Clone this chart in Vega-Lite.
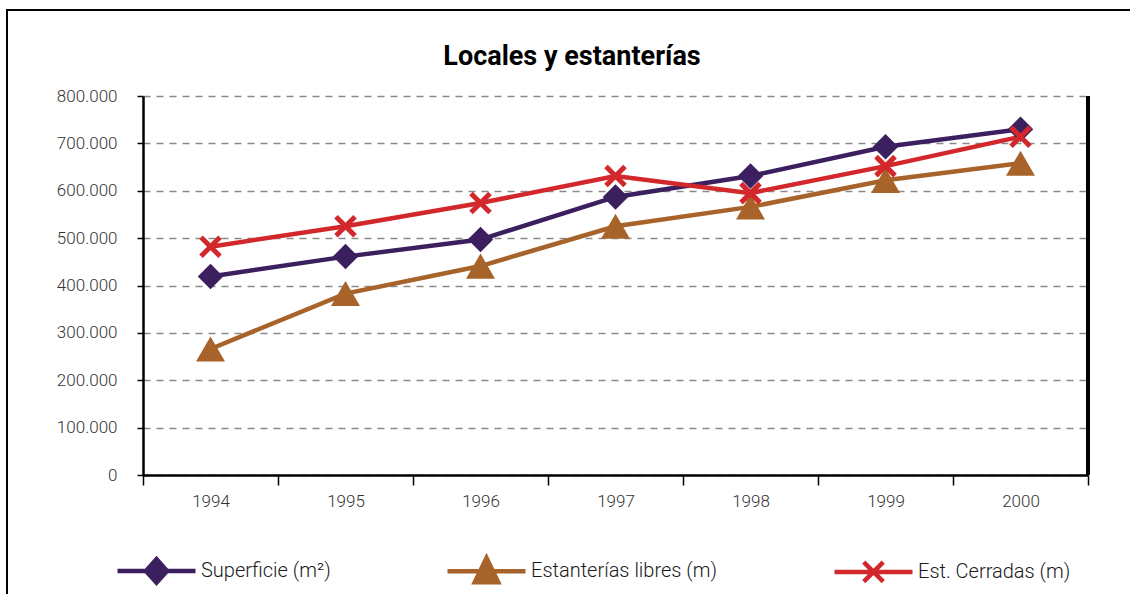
{
  "$schema": "https://vega.github.io/schema/vega-lite/v6.json",
  "width": 1130,
  "height": 600,
  "autosize": {"type": "none"},
  "padding": {"left": 7, "top": 10, "right": 0, "bottom": 0},
  "background": "white",
  "config": {
    "locale": {"number": {"decimal": ",", "thousands": ".", "grouping": [3], "currency": ["", " €"]}},
    "view": {"stroke": "black", "strokeWidth": 2},
    "font": "Roboto, sans-serif",
    "axis": {"labelFont": "Roboto, sans-serif", "labelFontWeight": 300},
    "legend": {"labelFont": "Roboto, sans-serif", "labelFontWeight": 300}
  },
  "title": {
    "text": "Locales y estanterías",
    "font": "Roboto, sans-serif",
    "fontSize": 27,
    "fontWeight": "bold",
    "color": "black",
    "anchor": "middle",
    "frame": "group",
    "baseline": "alphabetic",
    "offset": -82
  },
  "data": {
    "values": [
      {"year": "1994", "serie": "Superficie (m²)", "valor": 419000},
      {"year": "1995", "serie": "Superficie (m²)", "valor": 461000},
      {"year": "1996", "serie": "Superficie (m²)", "valor": 497000},
      {"year": "1997", "serie": "Superficie (m²)", "valor": 587000},
      {"year": "1998", "serie": "Superficie (m²)", "valor": 631000},
      {"year": "1999", "serie": "Superficie (m²)", "valor": 693000},
      {"year": "2000", "serie": "Superficie (m²)", "valor": 730000},
      {"year": "1994", "serie": "Estanterías libres (m)", "valor": 266000},
      {"year": "1995", "serie": "Estanterías libres (m)", "valor": 383000},
      {"year": "1996", "serie": "Estanterías libres (m)", "valor": 441000},
      {"year": "1997", "serie": "Estanterías libres (m)", "valor": 525000},
      {"year": "1998", "serie": "Estanterías libres (m)", "valor": 566000},
      {"year": "1999", "serie": "Estanterías libres (m)", "valor": 622000},
      {"year": "2000", "serie": "Estanterías libres (m)", "valor": 658000},
      {"year": "1994", "serie": "Est. Cerradas (m)", "valor": 482000},
      {"year": "1995", "serie": "Est. Cerradas (m)", "valor": 525000},
      {"year": "1996", "serie": "Est. Cerradas (m)", "valor": 574000},
      {"year": "1997", "serie": "Est. Cerradas (m)", "valor": 631000},
      {"year": "1998", "serie": "Est. Cerradas (m)", "valor": 595000},
      {"year": "1999", "serie": "Est. Cerradas (m)", "valor": 652000},
      {"year": "2000", "serie": "Est. Cerradas (m)", "valor": 714000}
    ]
  },
  "encoding": {
    "x": {
      "field": "year",
      "type": "ordinal",
      "scale": {
        "type": "band",
        "domain": ["1994", "1995", "1996", "1997", "1998", "1999", "2000"],
        "range": [136, 1081],
        "paddingInner": 0,
        "paddingOuter": 0
      },
      "axis": {
        "orient": "bottom",
        "offset": -135,
        "title": null,
        "grid": false,
        "tickBand": "extent",
        "tickSize": 10,
        "tickColor": "black",
        "tickWidth": 1.5,
        "domainColor": "black",
        "domainWidth": 2.5,
        "labelFontSize": 17,
        "labelColor": "#333333",
        "labelPadding": 8,
        "labelAngle": 0
      }
    },
    "y": {
      "field": "valor",
      "type": "quantitative",
      "scale": {"domain": [0, 800000], "range": [465, 86], "nice": false, "zero": true},
      "axis": {
        "orient": "left",
        "offset": -136,
        "title": null,
        "values": [0, 100000, 200000, 300000, 400000, 500000, 600000, 700000, 800000],
        "format": ",d",
        "grid": true,
        "gridColor": "#8a8a8a",
        "gridDash": [7, 6],
        "gridWidth": 1.4,
        "domainColor": "black",
        "domainWidth": 2.5,
        "tickColor": "black",
        "tickSize": 6,
        "tickWidth": 1.5,
        "labelFontSize": 17,
        "labelColor": "#333333",
        "labelPadding": 20
      }
    },
    "color": {
      "field": "serie",
      "type": "nominal",
      "scale": {
        "domain": ["Superficie (m²)", "Estanterías libres (m)", "Est. Cerradas (m)"],
        "range": ["#3b1f5e", "#a7632a", "#d2282c"]
      },
      "legend": {
        "orient": "none",
        "legendX": 108,
        "legendY": 519,
        "direction": "horizontal",
        "columns": 3,
        "title": null,
        "padding": 0,
        "symbolSize": 6084,
        "symbolStrokeWidth": 4.5,
        "labelFontSize": 20,
        "labelColor": "#1a1a1a",
        "labelOffset": 3,
        "columnPadding": 107,
        "labelLimit": 400,
        "encode": {
          "symbols": {
            "update": {
              "shape": {"signal": "datum.value === 'Superficie (m²)' ? 'M-1,0H1M-0.27,0L0,-0.3L0.27,0L0,0.3Z' : (datum.value === 'Estanterías libres (m)' ? 'M-1,0H1M0,-0.34L0.3,0.28L-0.3,0.28Z' : 'M-1,0H1M-0.25,-0.25L0.25,0.25M-0.25,0.25L0.25,-0.25')"},
              "fill": {"scale": "color", "field": "value"},
              "stroke": {"scale": "color", "field": "value"},
              "strokeWidth": {"value": 4.5},
              "opacity": {"value": 1},
              "fillOpacity": {"value": 1},
              "strokeOpacity": {"value": 1}
            }
          }
        }
      }
    }
  },
  "layer": [
    {
      "mark": {"type": "rule", "color": "black", "strokeWidth": 2.5},
      "encoding": {
        "x": {"datum": "2000", "type": "ordinal", "bandPosition": 1},
        "y": {"datum": 0},
        "y2": {"datum": 800000},
        "color": {"value": "black"}
      }
    },
    {
      "mark": {"type": "line", "strokeWidth": 4.5}
    },
    {
      "transform": [{"filter": "datum.serie === 'Superficie (m²)'"}],
      "mark": {"type": "point", "shape": "diamond", "filled": true, "size": 650, "opacity": 1}
    },
    {
      "transform": [{"filter": "datum.serie === 'Estanterías libres (m)'"}],
      "mark": {"type": "point", "shape": "triangle-up", "filled": true, "size": 841, "opacity": 1}
    },
    {
      "transform": [{"filter": "datum.serie === 'Est. Cerradas (m)'"}],
      "mark": {"type": "point", "shape": "M-1,-1L1,1M-1,1L1,-1", "filled": false, "strokeWidth": 5, "size": 361, "opacity": 1}
    }
  ]
}
